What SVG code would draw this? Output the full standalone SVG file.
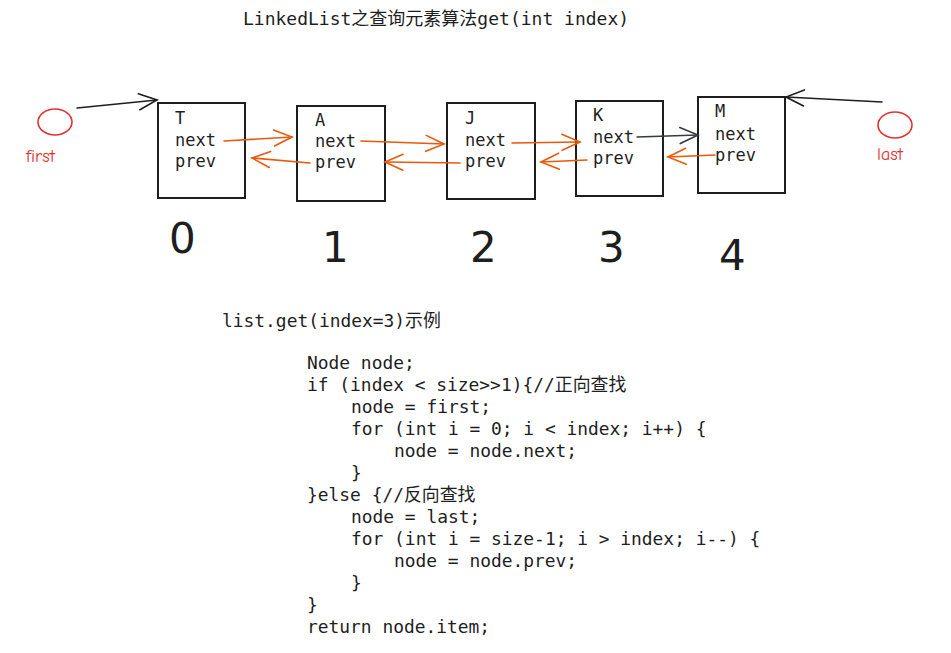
<svg xmlns="http://www.w3.org/2000/svg" width="951" height="653" viewBox="0 0 951 653">
<style>
.box{fill:none;stroke:#1e1e1e;stroke-width:2}
.t{font-family:"DejaVu Sans Mono","Liberation Mono","Noto Sans CJK SC",monospace;font-size:17px;fill:#1e1e1e}
.code{font-family:"DejaVu Sans Mono","Liberation Mono","Noto Sans CJK SC",monospace;font-size:17.9px;fill:#1e1e1e;white-space:pre}
.ttl{font-family:"DejaVu Sans Mono","Liberation Mono","Noto Sans CJK SC",monospace;font-size:18px;fill:#1e1e1e}
.or{fill:none;stroke:#e8590c;stroke-width:1.6;stroke-linecap:round}
.bk{fill:none;stroke:#1e1e1e;stroke-width:1.6;stroke-linecap:round}
.gr{fill:none;stroke:#343a40;stroke-width:1.6;stroke-linecap:round}
.red{fill:none;stroke:#e03131;stroke-width:1.6}
.rl{font-family:"Comic Neue","DejaVu Sans",sans-serif;font-size:18px;fill:#e03131}
.num{font-family:"DejaVu Sans","Liberation Sans",sans-serif;font-size:42px;fill:#1e1e1e}
</style>
<defs>
<marker id="ho" markerUnits="userSpaceOnUse" markerWidth="30" markerHeight="30" refX="20" refY="10" orient="auto" viewBox="0 0 30 20"><path d="M2 2 L20 10 L2 18" fill="none" stroke="#e8590c" stroke-width="1.6" stroke-linecap="round"/></marker>
<marker id="hb" markerUnits="userSpaceOnUse" markerWidth="30" markerHeight="30" refX="20" refY="10" orient="auto" viewBox="0 0 30 20"><path d="M2 2 L20 10 L2 18" fill="none" stroke="#1e1e1e" stroke-width="1.6" stroke-linecap="round"/></marker>
<marker id="hg" markerUnits="userSpaceOnUse" markerWidth="30" markerHeight="30" refX="20" refY="10" orient="auto" viewBox="0 0 30 20"><path d="M2 2 L20 10 L2 18" fill="none" stroke="#343a40" stroke-width="1.6" stroke-linecap="round"/></marker>
</defs>
<text class="ttl" x="243" y="25">LinkedList之查询元素算法get(int index)</text>
<g id="first">
<ellipse class="red" cx="55" cy="122" rx="17" ry="13"/>
<text class="rl" x="26" y="162">first</text>
</g>
<g id="last">
<ellipse class="red" cx="895" cy="125" rx="17" ry="13"/>
<text class="rl" x="877" y="160">last</text>
</g>
<g id="node0">
<rect class="box" x="158" y="103" width="87" height="95"/>
<text class="t" x="175" y="124">T</text>
<text class="t" x="175" y="146">next</text>
<text class="t" x="175" y="167">prev</text>
</g>
<g id="node1">
<rect class="box" x="297" y="106" width="88" height="95"/>
<text class="t" x="315" y="126">A</text>
<text class="t" x="315" y="147">next</text>
<text class="t" x="315" y="168">prev</text>
</g>
<g id="node2">
<rect class="box" x="447" y="103" width="88" height="96"/>
<text class="t" x="465" y="124">J</text>
<text class="t" x="465" y="146">next</text>
<text class="t" x="465" y="167">prev</text>
</g>
<g id="node3">
<rect class="box" x="576" y="101" width="87" height="95"/>
<text class="t" x="593" y="121">K</text>
<text class="t" x="593" y="143">next</text>
<text class="t" x="593" y="164">prev</text>
</g>
<g id="node4">
<rect class="box" x="698" y="97" width="87" height="96"/>
<text class="t" x="715" y="117">M</text>
<text class="t" x="715" y="140">next</text>
<text class="t" x="715" y="161">prev</text>
</g>
<g id="connectors">
<path class="bk" d="M77 108 L157 100" marker-end="url(#hb)"/>
<path class="bk" d="M882 102 L786 97" marker-end="url(#hb)"/>
<path class="or" d="M224 141 L292 137" marker-end="url(#ho)"/>
<path class="or" d="M310 163 L252 158" marker-end="url(#ho)"/>
<path class="or" d="M361 141 L444 144" marker-end="url(#ho)"/>
<path class="or" d="M460 163 L385 162" marker-end="url(#ho)"/>
<path class="or" d="M512 143 L580 142" marker-end="url(#ho)"/>
<path class="or" d="M587 160 L541 162" marker-end="url(#ho)"/>
<path class="gr" d="M637 137 L698 135" marker-end="url(#hg)"/>
<path class="or" d="M715 155 L668 157" marker-end="url(#ho)"/>
</g>
<g id="indices">
<text class="num" x="169" y="253">0</text>
<text class="num" x="322" y="262">1</text>
<text class="num" x="470" y="262">2</text>
<text class="num" x="598" y="262">3</text>
<text class="num" x="719" y="270">4</text>
</g>
<g id="code">
<text class="code" x="222" y="327">list.get(index=3)示例</text>
<text class="code" x="307" y="369">Node node;</text>
<text class="code" x="307" y="391">if (index &lt; size&gt;&gt;1){//正向查找</text>
<text class="code" x="351" y="413">node = first;</text>
<text class="code" x="351" y="435">for (int i = 0; i &lt; index; i++) {</text>
<text class="code" x="394" y="457">node = node.next;</text>
<text class="code" x="351" y="479">}</text>
<text class="code" x="307" y="501">}else {//反向查找</text>
<text class="code" x="351" y="523">node = last;</text>
<text class="code" x="351" y="545">for (int i = size-1; i &gt; index; i--) {</text>
<text class="code" x="394" y="567">node = node.prev;</text>
<text class="code" x="351" y="589">}</text>
<text class="code" x="307" y="611">}</text>
<text class="code" x="307" y="633">return node.item;</text>
</g>
</svg>
